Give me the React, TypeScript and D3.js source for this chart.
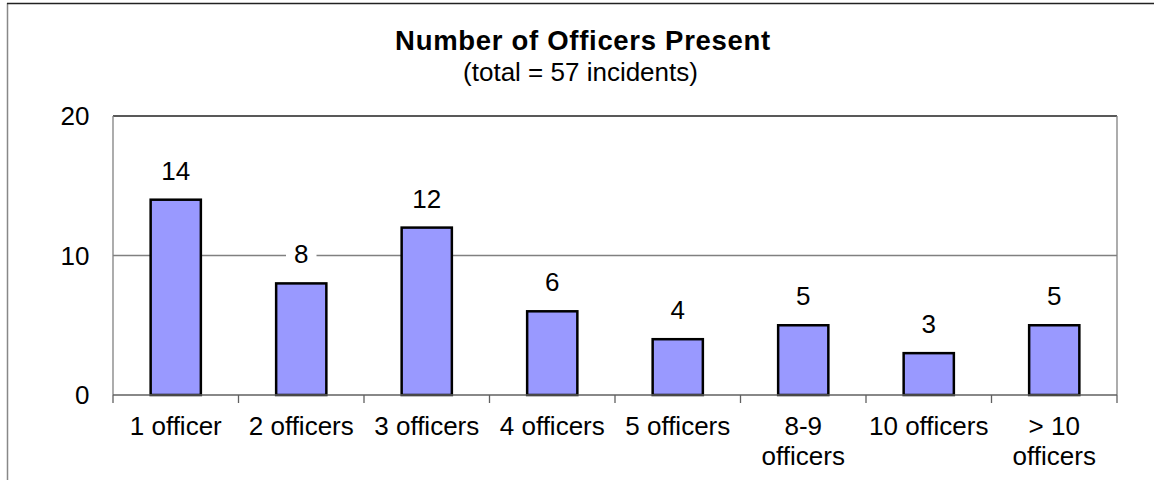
import React from "react";
import * as d3 from "d3";

const categories = ["1 officer", "2 officers", "3 officers", "4 officers", "5 officers", "8-9\nofficers", "10 officers", "> 10\nofficers"];
const values = [14, 8, 12, 6, 4, 5, 3, 5];
const yTicks = [0, 10, 20];
const title = "Number of Officers Present";
const subtitle = "(total = 57 incidents)";

const W = 1154;
const H = 480;
const FONT = "'Liberation Sans', Arial, Helvetica, sans-serif";

export default function App() {
  const left = 113, right = 1117, top = 116, bottom = 395;
  const x = d3.scaleBand<string>().domain(categories).range([left, right]).paddingInner(0.6).paddingOuter(0.3);
  const y = d3.scaleLinear().domain([0, 20]).range([bottom, top]);
  const step = x.step();
  const boundaries = d3.range(categories.length + 1).map((i) => left + i * step);

  return (
    <svg width={W} height={H} style={{ position: "absolute", left: 0, top: 0, background: "#fff" }} fontFamily={FONT}>
      <rect x={0} y={0} width={W} height={H} fill="#fff" />
      {/* outer chart border (clipped at right/bottom) */}
      <line x1={7.5} y1={3} x2={7.5} y2={H} stroke="#888" strokeWidth={1.5} />
      <line x1={7} y1={3.5} x2={W} y2={3.5} stroke="#222" strokeWidth={1.3} />

      {/* title */}
      <text x={583} y={50} textAnchor="middle" fontSize={27.5} fontWeight="bold" letterSpacing={0.7} fill="#000">{title}</text>
      <text x={580.5} y={81} textAnchor="middle" fontSize={26} fill="#000">{subtitle}</text>

      {/* gridlines */}
      {yTicks.filter((t) => t > 0 && t < 20).map((t) => (
        <line key={t} x1={left} x2={right} y1={y(t)} y2={y(t)} stroke="#808080" strokeWidth={1.3} />
      ))}
      {/* plot border */}
      <line x1={left} x2={right} y1={top} y2={top} stroke="#222" strokeWidth={1.3} />
      <line x1={left} x2={left} y1={top} y2={bottom} stroke="#808080" strokeWidth={1.3} />
      <line x1={right} x2={right} y1={top} y2={bottom} stroke="#808080" strokeWidth={1.3} />

      {/* value labels with white background */}
      {categories.map((c, i) => {
        const cx = (x(c) as number) + x.bandwidth() / 2;
        const by = y(values[i]) - 20;
        const w = String(values[i]).length * 14.5 + 16;
        return (
          <g key={"l" + c}>
            <rect x={cx - w / 2} y={by - 22} width={w} height={28} fill="#fff" />
            <text x={cx} y={by} textAnchor="middle" fontSize={26} fill="#000">{values[i]}</text>
          </g>
        );
      })}

      {/* bars */}
      {categories.map((c, i) => (
        <rect key={"b" + c} x={x(c)} y={y(values[i])} width={x.bandwidth()} height={bottom - y(values[i])} fill="#9999FF" stroke="#000" strokeWidth={2.5} />
      ))}

      {/* x axis */}
      <line x1={left} x2={right} y1={bottom} y2={bottom} stroke="#606060" strokeWidth={1.5} />
      {boundaries.map((bx, i) => (
        <line key={"t" + i} x1={bx} x2={bx} y1={bottom} y2={bottom + 8} stroke="#606060" strokeWidth={1.3} />
      ))}

      {/* y tick labels */}
      {yTicks.map((t) => (
        <text key={"y" + t} x={89.5} y={y(t) + 9} textAnchor="end" fontSize={26} fill="#000">{t}</text>
      ))}

      {/* x labels */}
      {categories.map((c) => {
        const cx = (x(c) as number) + x.bandwidth() / 2;
        return (
          <text key={"x" + c} textAnchor="middle" fontSize={26} fill="#000">
            {c.split("\n").map((ln, j) => (
              <tspan key={j} x={cx} y={435 + j * 30}>{ln}</tspan>
            ))}
          </text>
        );
      })}
    </svg>
  );
}
